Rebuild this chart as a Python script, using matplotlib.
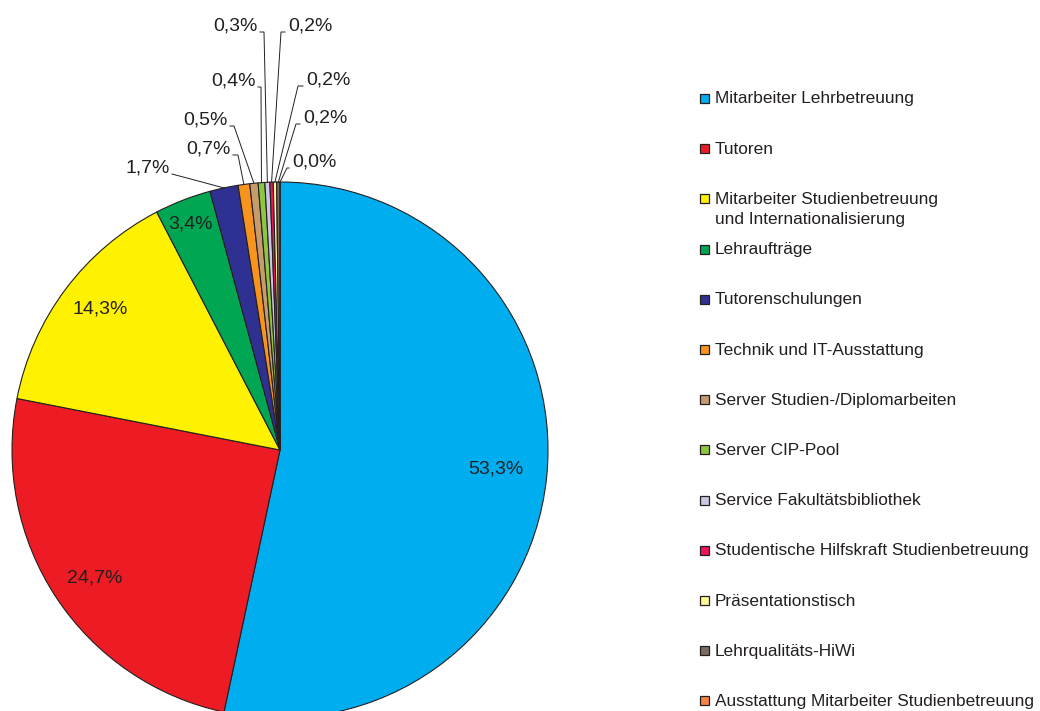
import numpy as np
import matplotlib
matplotlib.use("Agg")
import matplotlib.pyplot as plt
from matplotlib.patches import Rectangle

plt.rcParams['font.family'] = ['Liberation Sans', 'DejaVu Sans']

categories = [
    "Mitarbeiter Lehrbetreuung",
    "Tutoren",
    "Mitarbeiter Studienbetreuung\nund Internationalisierung",
    "Lehraufträge",
    "Tutorenschulungen",
    "Technik und IT-Ausstattung",
    "Server Studien-/Diplomarbeiten",
    "Server CIP-Pool",
    "Service Fakultätsbibliothek",
    "Studentische Hilfskraft Studienbetreuung",
    "Präsentationstisch",
    "Lehrqualitäts-HiWi",
    "Ausstattung Mitarbeiter Studienbetreuung",
]
values = [53.3, 24.7, 14.3, 3.4, 1.7, 0.7, 0.5, 0.4, 0.3, 0.2, 0.2, 0.2, 0.0]
labels = ["53,3%", "24,7%", "14,3%", "3,4%", "1,7%", "0,7%", "0,5%", "0,4%",
          "0,3%", "0,2%", "0,2%", "0,2%", "0,0%"]
colors = ["#00AEEF", "#ED1C24", "#FFF200", "#00A651", "#2E3192", "#F7941D",
          "#C69C6D", "#8DC63F", "#C9C8E4", "#ED145B", "#FFF799", "#7D6A60",
          "#F58345"]

TXT = "#231F20"
W, H = 1040, 711
fig = plt.figure(figsize=(W / 100, H / 100), dpi=100)
ax = fig.add_axes([0, 0, 1, 1])
ax.set_xlim(0, W)
ax.set_ylim(0, H)
ax.axis("off")

def P(x, y):
    return x, H - y

cx, cy = 280, 450
R = 268
wedges, _ = ax.pie(values, colors=colors, startangle=90, counterclock=False,
                   center=P(cx, cy), radius=R, normalize=True,
                   wedgeprops=dict(edgecolor=TXT, linewidth=0.8))
ax.set_xlim(0, W)
ax.set_ylim(0, H)
ax.set_aspect("equal")

fs = 14
# inside labels: (radial fraction, vertical nudge in px)
inside = {0: (0.81, 4), 1: (0.83, -5), 2: (0.84, 6), 3: (0.92, -4)}
for i, w in enumerate(wedges):
    th = np.deg2rad((w.theta1 + w.theta2) / 2)
    if i in inside:
        f, dy = inside[i]
        d = f * R
        x, y = P(cx, cy)
        ax.text(x + d * np.cos(th), y + d * np.sin(th) + dy, labels[i],
                ha="center", va="center", fontsize=fs, color=TXT)

# outside labels: (text x, text y, ha, elbow x) in pixel layout
outside = {
    4: (170, 168, "right", None),
    5: (231, 149, "right", 238),
    6: (228, 120, "right", 234),
    7: (256, 81, "right", 261),
    8: (258, 26, "right", 264),
    9: (288, 26, "left", 281),
    10: (306, 80, "left", 298),
    11: (303, 118, "left", 296),
    12: (292, 162, "left", 287),
}
for i, (tx, ty, ha, ex) in outside.items():
    w = wedges[i]
    th = np.deg2rad((w.theta1 + w.theta2) / 2)
    x0, y0 = P(cx, cy)
    px, py = x0 + R * np.cos(th), y0 + R * np.sin(th)
    ax.text(*P(tx, ty), labels[i], ha=ha, va="center", fontsize=fs, color=TXT)
    ly = ty + 6
    sx = tx + 2 if ha == "right" else tx - 3
    if ex is None:
        xs = [sx, px]
        ys = [H - ly, py]
    else:
        xs = [sx, ex, px]
        ys = [H - ly, H - ly, py]
    ax.plot(xs, ys, color=TXT, linewidth=0.7, solid_joinstyle="miter")

# legend
lx, ly0, step = 700, 98, 50.2
for i, (c, name) in enumerate(zip(colors, categories)):
    y = ly0 + i * step
    ax.add_patch(Rectangle(P(700, y + 5), 9, 9, facecolor=c, edgecolor=TXT,
                           linewidth=0.9))
    n = name.count("\n")
    ax.text(*P(715, y + 1 + n * 10), name, ha="left", va="center",
            fontsize=12.4, color=TXT, linespacing=1.42)

fig.savefig("out.png", dpi=100)
